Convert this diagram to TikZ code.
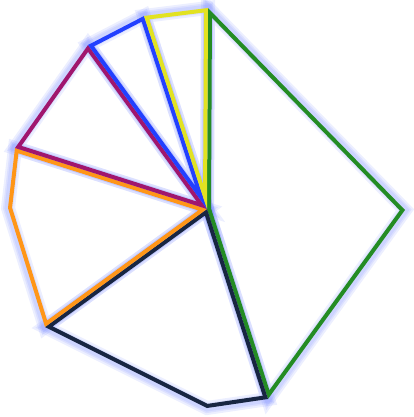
\documentclass[tikz,border=0pt]{standalone}
\usepackage{tikz}

\definecolor{fangreen}{RGB}{36,140,36}
\definecolor{fannavy}{RGB}{24,38,66}
\definecolor{fanorange}{RGB}{255,150,24}
\definecolor{fanpurple}{RGB}{160,22,110}
\definecolor{fanblue}{RGB}{34,64,255}
\definecolor{fanyellow}{RGB}{226,226,34}
\definecolor{glowblue}{RGB}{100,120,255}

\tikzset{
  glowline/.style={draw=glowblue, line width=#1, opacity=.12, line join=miter},
  edgeline/.style={draw=#1, line width=8pt, line join=miter},
}

\begin{document}
\begin{tikzpicture}[x=1pt, y=-1pt]
 \useasboundingbox (0,0) rectangle (413,417);
 % corners of the fan
 \coordinate (c) at (207,209);
 \coordinate (g1) at (208,8);
 \coordinate (g2) at (405,210);
 \coordinate (g3) at (268,399);
 \coordinate (n2) at (207,408);
 \coordinate (n3) at (45,327);
 \coordinate (o2) at (8,208);
 \coordinate (o3) at (15,148);
 \coordinate (p2) at (88,45);
 \coordinate (b2) at (144,16);
 % glow under everything
 \foreach \w in {14,10,7} {
   \draw[glowline=\w pt] (c) -- (g1) -- (g2) -- (g3) -- cycle;
   \draw[glowline=\w pt] (c) -- (g3) -- (n2) -- (n3) -- cycle;
   \draw[glowline=\w pt] (c) -- (n3) -- (o2) -- (o3) -- cycle;
   \draw[glowline=\w pt] (c) -- (o3) -- (p2) -- cycle;
   \draw[glowline=\w pt] (c) -- (p2) -- (b2) -- cycle;
   \draw[glowline=\w pt] (c) -- (b2) -- (g1) -- cycle;
 }
 % the pieces, stroked on the inside
 \begin{scope}
  \clip (c) -- (g1) -- (g2) -- (g3) -- cycle;
  \draw[edgeline=fangreen] (c) -- (g1) -- (g2) -- (g3) -- cycle;
 \end{scope}
 \begin{scope}
  \clip (c) -- (g3) -- (n2) -- (n3) -- cycle;
  \draw[edgeline=fannavy] (c) -- (g3) -- (n2) -- (n3) -- cycle;
 \end{scope}
 \begin{scope}
  \clip (c) -- (n3) -- (o2) -- (o3) -- cycle;
  \draw[edgeline=fanorange] (c) -- (n3) -- (o2) -- (o3) -- cycle;
 \end{scope}
 \begin{scope}
  \clip (c) -- (o3) -- (p2) -- cycle;
  \draw[edgeline=fanpurple] (c) -- (o3) -- (p2) -- cycle;
 \end{scope}
 \begin{scope}
  \clip (c) -- (p2) -- (b2) -- cycle;
  \draw[edgeline=fanblue] (c) -- (p2) -- (b2) -- cycle;
 \end{scope}
 \begin{scope}
  \clip (c) -- (b2) -- (g1) -- cycle;
  \draw[edgeline=fanyellow] (c) -- (b2) -- (g1) -- cycle;
 \end{scope}
\end{tikzpicture}
\end{document}
